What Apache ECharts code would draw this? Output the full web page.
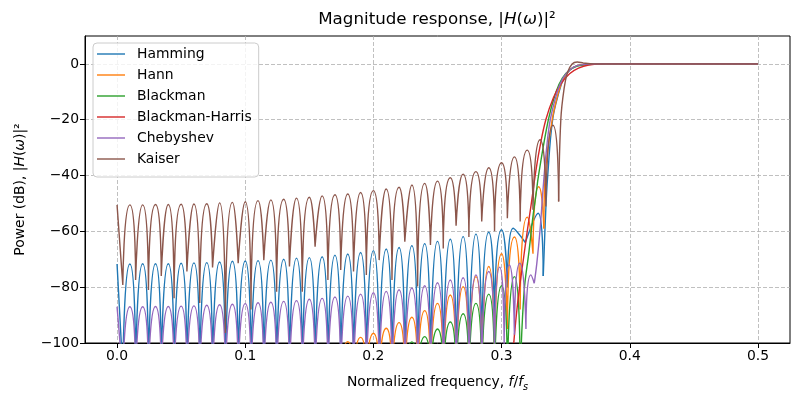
<!DOCTYPE html>
<html><head><meta charset="utf-8">
<script src="https://cdn.jsdelivr.net/npm/echarts@6/dist/echarts.min.js"></script>
<style>html,body{margin:0;padding:0;background:#fff}#c{width:800px;height:400px}</style>
</head><body><div id="c"></div>
<script>
const seriesNames = ['Hamming', 'Hann', 'Blackman', 'Blackman-Harris', 'Chebyshev', 'Kaiser'];
const seriesColors = ['#1f77b4', '#ff7f0e', '#2ca02c', '#d62728', '#9467bd', '#8c564b'];
const xTicks = [0, 0.1, 0.2, 0.3, 0.4, 0.5];
const yTicks = [-100, -80, -60, -40, -20, 0];

// stopband side-lobe grid (peak and null frequencies)
const peakFreq = [0,0.01,0.02,0.03,0.04,0.05,0.06,0.07,0.08,0.09,0.10,0.11,0.12,0.13,0.14,0.15,0.16,0.17,0.18,0.19,0.20,0.21,0.22,0.23,0.24,0.25,0.26,0.27,0.28,0.29,0.30,0.31,0.32,0.33,0.34];
const nullFreq = [0.0045,0.0145,0.0245,0.0345,0.0445,0.0545,0.0645,0.0745,0.0845,0.0945,0.1045,0.1145,0.1245,0.1345,0.1445,0.1545,0.1645,0.1745,0.1845,0.1945,0.2045,0.2145,0.2245,0.2345,0.2445,0.2545,0.2645,0.2745,0.2845,0.2945,0.3045,0.3145,0.3245,0.3345,0.3445];

// Hamming
const hammingPeaks = [-71.7,-71.7,-71.6,-71.6,-71.6,-71.4,-71.3,-71.2,-71.0,-70.7,-70.6,-70.5,-70.3,-70.0,-69.6,-69.4,-69.1,-68.5,-68.1,-67.6,-66.9,-66.3,-65.8,-65.1,-64.4,-63.6,-62.8,-61.9,-61.0,-60.3,-59.4,null,null,null,null];
const hammingNulls = [-110,-110,-110,-110,-110,-110,-110,-110,-110,-110,-110,-110,-110,-110,-110,-110,-110,-110,-110,-110,-110,-110,-110,-110,-110,-110,-110,-110,-110,-95,-80,null,null,null,null];
const hammingExtraLobes = [[[0.3045,-80],[0.309,-58.9],[0.3185,-64]], [[0.3185,-64],[0.3285,-53.5],[0.3325,-76]]];
const hammingRise = [[0.3325,-76],[0.3345,-52],[0.336,-40],[0.3398,-20],[0.3448,-10],[0.3487,-5],[0.3537,-2],[0.359,-0.6],[0.37,0],[0.5,0]];

// Hann
const hannPeaks = [null,null,null,null,null,null,null,null,null,null,null,null,null,null,null,null,null,null,-99.5,-98,-96.5,-94.7,-92.7,-90.8,-88.4,-85.8,-82.8,-79.8,-76.2,-72.6,-68,-62,-54.9,null,null];
const hannNulls = [null,null,null,null,null,null,null,null,null,null,null,null,null,null,null,null,null,-112,-112,-112,-112,-112,-112,-112,-112,-112,-112,-112,-112,-112,-95,-88,-68,null,null];
const hannExtraLobes = [[[0.3245,-68],[0.329,-44],[0.333,-59]]];
const hannRise = [[0.333,-59],[0.334,-40],[0.3395,-20],[0.3445,-10],[0.3485,-5],[0.3535,-2],[0.359,-0.6],[0.367,-0.1],[0.38,0],[0.5,0]];

// Blackman
const blackmanPeaks = [null,null,null,null,null,null,null,null,null,null,null,null,null,null,null,null,null,null,null,null,null,null,-101.5,-99.6,-97.7,-95,-92.5,-89.5,-85.8,-82.5,-79.5,-76.2,null,null,null];
const blackmanNulls = [null,null,null,null,null,null,null,null,null,null,null,null,null,null,null,null,null,null,null,null,null,-112,-112,-112,-112,-112,-112,-112,-112,-112,-112,-112,null,null,null];
const blackmanExtraLobes = [];
const blackmanRise = [[0.3145,-112],[0.3175,-82],[0.3215,-66.7],[0.3245,-54.5],[0.3268,-47],[0.3288,-40],[0.3365,-20],[0.3425,-10],[0.3475,-5],[0.353,-2.2],[0.359,-0.8],[0.367,-0.2],[0.38,0],[0.5,0]];

// Blackman-Harris
const harrisPeaks = [];
const harrisNulls = [];
const harrisExtraLobes = [];
const harrisRise = [[0.3095,-100],[0.3115,-90],[0.314,-80],[0.317,-70],[0.32,-60],[0.3232,-50],[0.3262,-40],[0.3298,-30],[0.3345,-20],[0.3405,-12],[0.3465,-7],[0.353,-3.5],[0.36,-1.5],[0.368,-0.4],[0.38,0],[0.5,0]];

// Chebyshev
const chebPeaks = [-87.0,-87.0,-87.0,-86.9,-86.9,-86.8,-86.7,-86.5,-86.3,-86.1,-85.9,-85.6,-85.4,-85.1,-84.8,-84.3,-84.0,-83.5,-83.2,-82.5,-82.0,-81.5,-80.9,-80.3,-79.5,-78.4,-77.4,-76.6,-75.6,-74.4,null,null,null,null,null];
const chebNulls = [-112,-112,-112,-112,-112,-112,-112,-112,-112,-112,-112,-112,-112,-112,-112,-112,-112,-112,-112,-112,-112,-112,-112,-112,-112,-112,-112,-112,-112,-108,null,null,null,null,null];
const chebExtraLobes = [[[0.2945,-108],[0.2985,-72.8],[0.302,-102]], [[0.302,-102],[0.306,-72],[0.310,-97]], [[0.310,-97],[0.3142,-71.4],[0.319,-95]], [[0.319,-95],[0.3228,-75.6],[0.3255,-78.6]]];
const chebRise = [[0.3255,-78.6],[0.3275,-71.4],[0.33,-59.5],[0.3325,-44],[0.335,-30.8],[0.338,-20],[0.3435,-10],[0.348,-5],[0.3535,-2],[0.359,-0.6],[0.37,0],[0.5,0]];

// Kaiser
const kaiserPeaks = [-50.5,-50.5,-50.5,-50.4,-50.4,-50.3,-50.2,-50.1,-49.8,-49.6,-49.4,-49.0,-48.7,-48.5,-48.1,-47.8,-47.3,-46.9,-46.6,-46.1,-45.4,-44.8,-44.2,-43.4,-42.8,-42.0,-40.8,-39.5,-38.6,-37.2,-35.4,-33.3,-30.9,-27.2,-22.0];
const kaiserNulls = [-79.2,-77.4,-81.0,-76.0,-84.0,-74.4,-85.7,-72.9,-96.4,-71.4,-88.0,-70.3,-81.6,-72.6,-81.6,-65.5,-77.4,-73.8,-74.4,-75.6,-70.3,-77.4,-63.7,-79.8,-64.9,-66.1,-58.0,-62.0,-56.5,-60.0,-55.3,-56.5,-52.3,-51.1,-49.3];
const kaiserExtraLobes = [];
const kaiserRise = [[0.3445,-49.3],[0.3462,-20],[0.3488,-8.7],[0.3515,-3],[0.355,0],[0.359,0.7],[0.364,0.3],[0.372,0],[0.5,0]];

const windowData = [
  [hammingPeaks, hammingNulls, hammingExtraLobes, hammingRise],
  [hannPeaks, hannNulls, hannExtraLobes, hannRise],
  [blackmanPeaks, blackmanNulls, blackmanExtraLobes, blackmanRise],
  [harrisPeaks, harrisNulls, harrisExtraLobes, harrisRise],
  [chebPeaks, chebNulls, chebExtraLobes, chebRise],
  [kaiserPeaks, kaiserNulls, kaiserExtraLobes, kaiserRise]
];

// each lobe is its own smoothed piece (null -> peak -> null), pieces separated by gaps
function buildLobes(peaks, nulls, extra) {
  const out = [];
  for (let k = 0; k < peaks.length; k++) {
    if (peaks[k] == null) continue;
    if (k > 0 && nulls[k - 1] != null) out.push([nullFreq[k - 1], nulls[k - 1]]);
    out.push([peakFreq[k], peaks[k]]);
    if (nulls[k] != null) out.push([nullFreq[k], nulls[k]]);
    out.push([nullFreq[k], '-']);
  }
  extra.forEach(function (seg) {
    seg.forEach(function (p) { out.push(p); });
    out.push([seg[seg.length - 1][0], '-']);
  });
  return out;
}

const FONT = 'DejaVu Sans';
const LEGEND_ICON = 'path://M0,0H28V1.4H0Z';
const series = [];
seriesNames.forEach(function (name, i) {
  const d = windowData[i];
  const common = {
    name: name, type: 'line', symbol: 'none', connectNulls: false,
    lineStyle: { width: 1.4, color: seriesColors[i] },
    itemStyle: { color: seriesColors[i] },
    emphasis: { disabled: true }, animation: false
  };
  series.push(Object.assign({}, common, { data: buildLobes(d[0], d[1], d[2]), smooth: 1 }));
  series.push(Object.assign({}, common, { data: d[3], smooth: 0.4 }));
});

const chart = echarts.init(document.getElementById('c'), null, { renderer: 'canvas' });
chart.setOption({
  animation: false,
  backgroundColor: '#ffffff',
  title: {
    text: '{a|Magnitude response, |}{i|H}{a|(}{i|ω}{a|)|²}',
    left: 432, top: 6, textAlign: 'center',
    textStyle: {
      fontWeight: 'normal',
      rich: {
        a: { fontFamily: FONT, fontSize: 16.7, fontWeight: 'normal', color: '#000' },
        i: { fontFamily: FONT, fontSize: 16.7, fontWeight: 'normal', fontStyle: 'italic', color: '#000' }
      }
    }
  },
  legend: {
    data: seriesNames.map(function (n) { return { name: n, icon: LEGEND_ICON }; }),
    orient: 'vertical', left: 93, top: 43,
    itemWidth: 28, itemHeight: 14, itemGap: 7,
    padding: [4, 7, 11, 4],
    backgroundColor: 'rgba(255,255,255,0.8)', borderColor: '#cccccc', borderWidth: 1, borderRadius: 4,
    textStyle: { fontFamily: FONT, fontSize: 13.9, color: '#000', padding: [0, 0, 0, 7] }
  },
  grid: { left: 85, right: 10, top: 36, bottom: 57, show: true, borderColor: '#000', borderWidth: 1, backgroundColor: 'transparent' },
  xAxis: {
    type: 'value', min: -0.025, max: 0.525,
    name: '{a|Normalized frequency, }{i|f}{a|/}{i|f}{s|s}',
    nameLocation: 'middle', nameGap: 29,
    nameTextStyle: {
      rich: {
        a: { fontFamily: FONT, fontSize: 13.9, color: '#000', lineHeight: 20 },
        i: { fontFamily: FONT, fontSize: 13.9, fontStyle: 'italic', color: '#000', lineHeight: 20 },
        s: { fontFamily: FONT, fontSize: 9.7, fontStyle: 'italic', color: '#000', lineHeight: 10, verticalAlign: 'bottom' }
      }
    },
    axisLine: { show: true, onZero: false, lineStyle: { color: '#000', width: 1 } },
    axisTick: { show: true, length: 5, customValues: xTicks, lineStyle: { color: '#000', width: 1 } },
    axisLabel: { customValues: xTicks, formatter: function (v) { return v.toFixed(1); }, fontFamily: FONT, fontSize: 13.9, color: '#000', margin: 6 },
    splitLine: { show: true, lineStyle: { color: '#b0b0b0', width: 0.8, type: [4, 2] } }
  },
  yAxis: {
    type: 'value', min: -100, max: 10,
    name: '{a|Power (dB), |}{i|H}{a|(}{i|ω}{a|)|²}',
    nameLocation: 'middle', nameGap: 58, nameRotate: 90,
    nameTextStyle: {
      rich: {
        a: { fontFamily: FONT, fontSize: 13.9, color: '#000' },
        i: { fontFamily: FONT, fontSize: 13.9, fontStyle: 'italic', color: '#000' }
      }
    },
    axisLine: { show: true, onZero: false, lineStyle: { color: '#000', width: 1 } },
    axisTick: { show: true, length: 5, customValues: yTicks, lineStyle: { color: '#000', width: 1 } },
    axisLabel: { customValues: yTicks, formatter: function (v) { return String(v).replace('-', '\u2212'); }, fontFamily: FONT, fontSize: 13.9, color: '#000', margin: 6 },
    splitLine: { show: true, lineStyle: { color: '#b0b0b0', width: 0.8, type: [4, 2] } }
  },
  series: series
});
</script>
</body></html>
